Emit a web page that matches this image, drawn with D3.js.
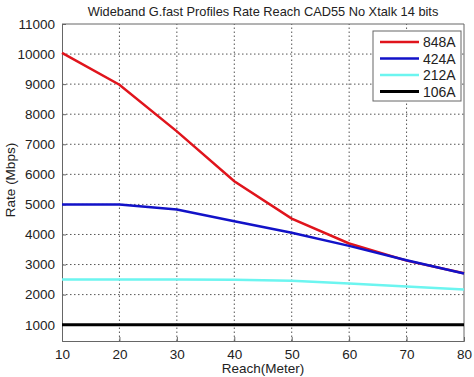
<!DOCTYPE html>
<html>
<head>
<meta charset="utf-8">
<script src="https://cdn.jsdelivr.net/npm/d3@7"></script>
<style>
  body { margin: 0; background: #fff; }
  text { font-family: "Liberation Sans", Arial, sans-serif; fill: #222; }
</style>
</head>
<body>
<svg id="chart"></svg>
<script>
let width = 474;
let height = 377;
let margin = {top: 24, right: 10, bottom: 36, left: 62};

let reach = [10, 20, 30, 40, 50, 60, 70, 80];
let rate848 = [10040, 8980, 7430, 5770, 4530, 3700, 3130, 2710];
let rate424 = [5000, 5000, 4830, 4440, 4060, 3620, 3140, 2700];
let rate212 = [2500, 2500, 2500, 2490, 2460, 2370, 2270, 2170];
let rate106 = [1000, 1000, 1000, 1000, 1000, 1000, 1000, 1000];
let seriesNames = ["848A", "424A", "212A", "106A"];
let seriesColors = ["#e0141c", "#1212c8", "#6cf5f0", "#000000"];
let xTicks = [10, 20, 30, 40, 50, 60, 70, 80];
let yTicks = [1000, 2000, 3000, 4000, 5000, 6000, 7000, 8000, 9000, 10000, 11000];

let allSeries = [rate848, rate424, rate212, rate106];

let svg = d3.select("#chart")
  .attr("width", width)
  .attr("height", height);

let xax = d3.scaleLinear()
  .domain([10, 80])
  .range([margin.left, width - margin.right]);

let yax = d3.scaleLinear()
  .domain([457, 11000])
  .range([height - margin.bottom, margin.top]);

// grid
svg.append("g")
  .selectAll("line")
  .data(xTicks.slice(1, -1))
  .enter()
    .append("line")
    .attr("x1", d => xax(d))
    .attr("x2", d => xax(d))
    .attr("y1", yax.range()[0])
    .attr("y2", yax.range()[1])
    .attr("stroke", "#555")
    .attr("stroke-width", 1)
    .attr("stroke-dasharray", "1.5,2.5");

svg.append("g")
  .selectAll("line")
  .data(yTicks.slice(0, -1))
  .enter()
    .append("line")
    .attr("x1", xax.range()[0])
    .attr("x2", xax.range()[1])
    .attr("y1", d => yax(d))
    .attr("y2", d => yax(d))
    .attr("stroke", "#555")
    .attr("stroke-width", 1)
    .attr("stroke-dasharray", "1.5,2.5");

// axes
let xAxis = svg.append("g")
  .attr("transform", `translate(0, ${yax.range()[0]})`)
  .call(d3.axisBottom(xax).tickValues(xTicks).tickSize(-4).tickPadding(8));

let yAxis = svg.append("g")
  .attr("transform", `translate(${xax.range()[0]}, 0)`)
  .call(d3.axisLeft(yax).tickValues(yTicks).tickFormat(d3.format("d")).tickSize(-4).tickPadding(7));

[xAxis, yAxis].forEach(ax => {
  ax.select(".domain").attr("stroke", "#666");
  ax.selectAll(".tick line").attr("stroke", "#666");
  ax.selectAll("text")
    .attr("font-size", 13.5)
    .attr("font-family", "Liberation Sans, Arial, sans-serif")
    .attr("fill", "#222");
});

// top and right border
svg.append("path")
  .attr("d", `M${xax.range()[0]},${yax.range()[1]}H${xax.range()[1]}V${yax.range()[0]}`)
  .attr("fill", "none")
  .attr("stroke", "#666")
  .attr("stroke-width", 1);

// lines
let line = d3.line()
  .x((d, i) => xax(reach[i]))
  .y(d => yax(d));

allSeries.forEach((s, i) => {
  svg.append("path")
    .attr("d", line(s))
    .attr("fill", "none")
    .attr("stroke", seriesColors[i])
    .attr("stroke-width", i == 3 ? 3 : 2.5);
});

// title and labels
svg.append("text")
  .text("Wideband G.fast Profiles Rate Reach CAD55 No Xtalk 14 bits")
  .attr("x", (xax.range()[0] + xax.range()[1]) / 2)
  .attr("y", 16)
  .attr("text-anchor", "middle")
  .attr("font-size", 12.8);

svg.append("text")
  .text("Reach(Meter)")
  .attr("x", (xax.range()[0] + xax.range()[1]) / 2)
  .attr("y", 373)
  .attr("text-anchor", "middle")
  .attr("font-size", 13.5);

svg.append("text")
  .text("Rate (Mbps)")
  .attr("transform", `translate(15, 180) rotate(-90)`)
  .attr("text-anchor", "middle")
  .attr("font-size", 13.5);

// legend
let legend = svg.append("g").attr("transform", "translate(373, 31)");
legend.append("rect")
  .attr("width", 88)
  .attr("height", 70)
  .attr("fill", "#fff")
  .attr("stroke", "#666");

seriesNames.forEach((name, i) => {
  let y = 11 + i * 16.5;
  legend.append("line")
    .attr("x1", 7)
    .attr("x2", 46)
    .attr("y1", y)
    .attr("y2", y)
    .attr("stroke", seriesColors[i])
    .attr("stroke-width", i == 3 ? 3 : 2.5);
  legend.append("text")
    .text(name)
    .attr("x", 50)
    .attr("y", y + 5)
    .attr("font-size", 14);
});
</script>
</body>
</html>
